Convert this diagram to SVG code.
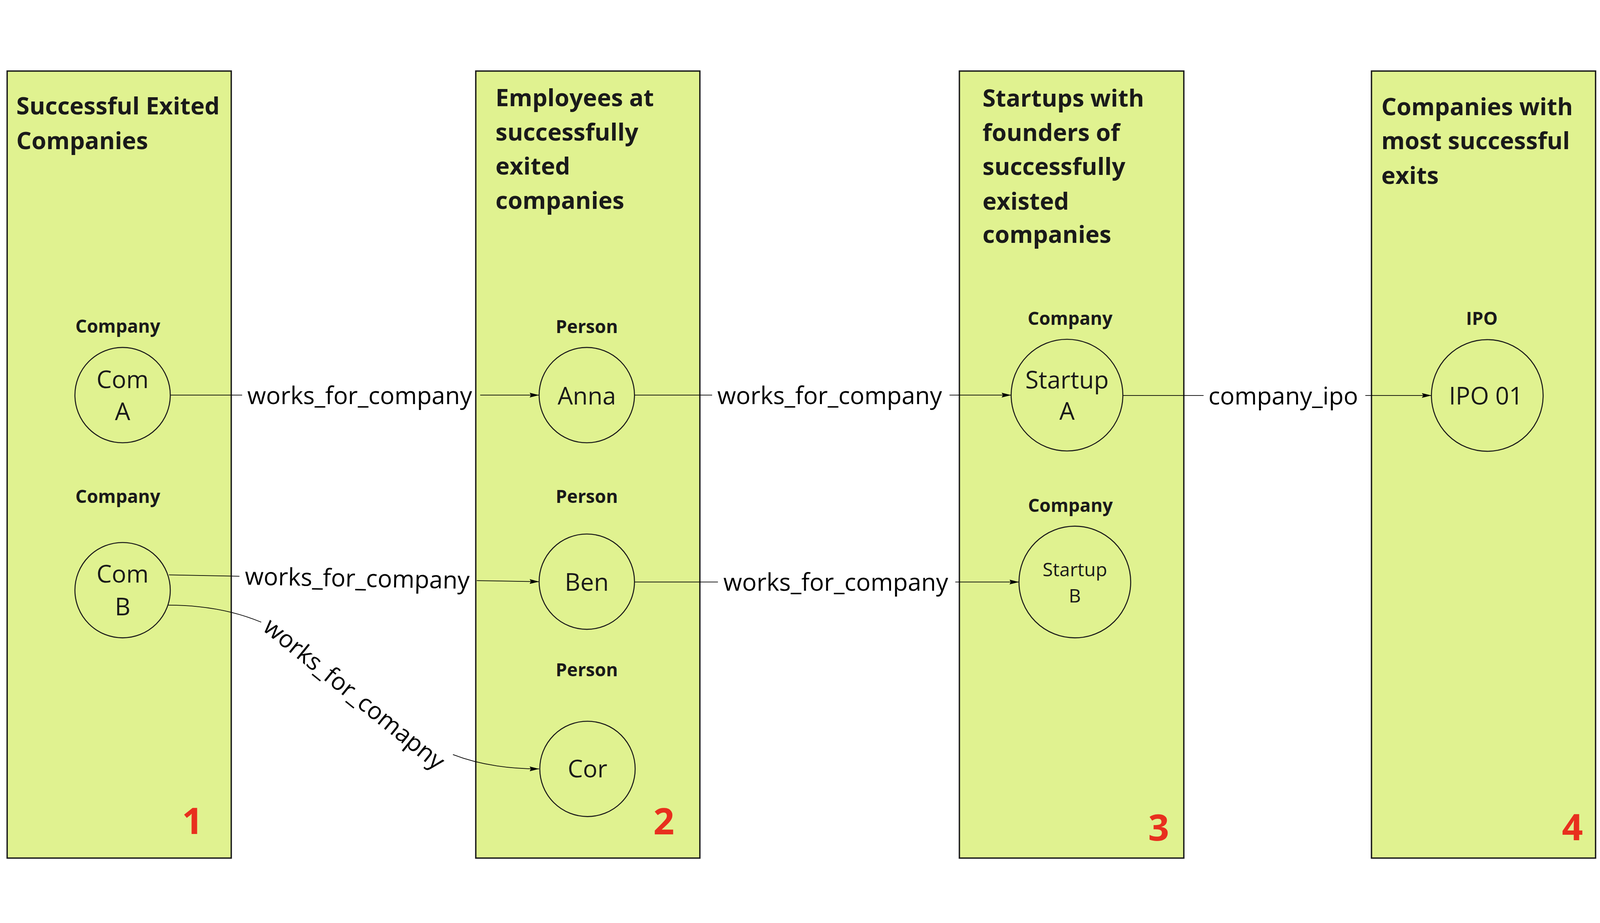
<svg xmlns="http://www.w3.org/2000/svg" width="4698" height="2364" viewBox="0 0 4698 2364" style="width:100vw;height:100vh">
<defs>
<style>
.panel{fill:#e0f290;stroke:#1a1a1a;stroke-width:4}
.node{fill:#e0f290;stroke:#1a1a1a;stroke-width:3}
.title{font-family:"Open Sans","Noto Sans",sans-serif;font-weight:bold;font-size:70px;fill:#1a1a1a}
.type{font-family:"Open Sans","Noto Sans",sans-serif;font-weight:bold;font-size:53px;fill:#1a1a1a;text-anchor:middle}
.ntext{font-family:"Open Sans","Noto Sans",sans-serif;font-size:71px;fill:#1a1a1a;text-anchor:middle}
.ntext-s{font-family:"Open Sans","Noto Sans",sans-serif;font-size:55px;fill:#1a1a1a;text-anchor:middle}
.num{font-family:"Open Sans","Noto Sans",sans-serif;font-weight:bold;font-size:108px;fill:#e8301e;text-anchor:end}
.edge{fill:none;stroke:#000;stroke-width:2}
.elabel{font-family:"Open Sans","Noto Sans",sans-serif;font-size:71px;fill:#000;text-anchor:middle}
</style>
<marker id="arrow" markerUnits="userSpaceOnUse" markerWidth="28" markerHeight="14" refX="28" refY="7" orient="auto">
<path d="M0,0 L28,7 L0,14 L4,7 z" fill="#000"/>
</marker>
</defs>
<rect width="4698" height="2364" fill="#fff"/>

<g id="panel1">
<rect class="panel" x="21" y="35" width="658" height="2312"/>
<text class="title" x="48" y="162">Successful Exited</text>
<text class="title" x="48" y="264">Companies</text>
<text class="num" x="596" y="2276">1</text>
</g>
<g id="panel2">
<rect class="panel" x="1397" y="35" width="658" height="2312"/>
<text class="title" x="1455" y="138">Employees at</text>
<text class="title" x="1455" y="239">successfully</text>
<text class="title" x="1455" y="339">exited</text>
<text class="title" x="1455" y="440">companies</text>
<text class="num" x="1980" y="2277">2</text>
</g>
<g id="panel3">
<rect class="panel" x="2817" y="35" width="659" height="2312"/>
<text class="title" x="2885" y="139">Startups with</text>
<text class="title" x="2885" y="240">founders of</text>
<text class="title" x="2885" y="340">successfully</text>
<text class="title" x="2885" y="442">existed</text>
<text class="title" x="2885" y="540">companies</text>
<text class="num" x="3433" y="2296">3</text>
</g>
<g id="panel4">
<rect class="panel" x="4027" y="35" width="658" height="2312"/>
<text class="title" x="4056" y="165">Companies with</text>
<text class="title" x="4056" y="265">most successful</text>
<text class="title" x="4056" y="366">exits</text>
<text class="num" x="4648" y="2295">4</text>
</g>

<g id="connectors">
<line class="edge" x1="500" y1="987" x2="711" y2="987"/>
<line class="edge" x1="1410" y1="987" x2="1583" y2="987" marker-end="url(#arrow)"/>
<text class="elabel" x="1056" y="1013">works_for_company</text>

<line class="edge" x1="496" y1="1515" x2="703" y2="1519"/>
<line class="edge" x1="1400" y1="1532" x2="1583" y2="1535" marker-end="url(#arrow)"/>
<text class="elabel" transform="translate(1049,1525) rotate(1.06)" x="0" y="25">works_for_company</text>

<path class="edge" d="M494,1604 C606,1604 693,1623 767,1654"/>
<path class="edge" d="M1330,2043 C1400,2070 1480,2085 1583,2085" marker-end="url(#arrow)"/>
<text class="elabel" transform="translate(1042,1846) rotate(39)" x="10" y="40">works_for_comapny</text>

<line class="edge" x1="1863" y1="987" x2="2091" y2="987"/>
<line class="edge" x1="2788" y1="987" x2="2969" y2="987" marker-end="url(#arrow)"/>
<text class="elabel" x="2436" y="1013">works_for_company</text>

<line class="edge" x1="1863" y1="1536" x2="2108" y2="1536"/>
<line class="edge" x1="2805" y1="1536" x2="2992" y2="1536" marker-end="url(#arrow)"/>
<text class="elabel" x="2454" y="1562">works_for_company</text>

<line class="edge" x1="3297" y1="988" x2="3534" y2="988"/>
<line class="edge" x1="4009" y1="988" x2="4203" y2="988" marker-end="url(#arrow)"/>
<text class="elabel" x="3768" y="1014">company_ipo</text>
</g>

<g id="node-com-a">
<text class="type" x="346" y="803">Company</text>
<circle class="node" cx="360" cy="987" r="140"/>
<text class="ntext" x="360" y="966">Com</text>
<text class="ntext" x="360" y="1061">A</text>
</g>
<g id="node-com-b">
<text class="type" x="346" y="1304">Company</text>
<circle class="node" cx="360" cy="1560" r="140"/>
<text class="ntext" x="360" y="1538">Com</text>
<text class="ntext" x="360" y="1634">B</text>
</g>
<g id="node-anna">
<text class="type" x="1723" y="805">Person</text>
<circle class="node" cx="1723" cy="987" r="140"/>
<text class="ntext" x="1723" y="1014">Anna</text>
</g>
<g id="node-ben">
<text class="type" x="1723" y="1304">Person</text>
<circle class="node" cx="1723" cy="1535" r="140"/>
<text class="ntext" x="1723" y="1562">Ben</text>
</g>
<g id="node-cor">
<text class="type" x="1723" y="1813">Person</text>
<circle class="node" cx="1725" cy="2085" r="140"/>
<text class="ntext" x="1725" y="2110">Cor</text>
</g>
<g id="node-startup-a">
<text class="type" x="3142" y="780">Company</text>
<circle class="node" cx="3133" cy="987" r="164"/>
<text class="ntext" x="3133" y="968">Startup</text>
<text class="ntext" x="3133" y="1059">A</text>
</g>
<g id="node-startup-b">
<text class="type" x="3143" y="1330">Company</text>
<circle class="node" cx="3156" cy="1536" r="164"/>
<text class="ntext-s" x="3156" y="1519">Startup</text>
<text class="ntext-s" x="3156" y="1596">B</text>
</g>
<g id="node-ipo">
<text class="type" x="4351" y="781">IPO</text>
<circle class="node" cx="4367" cy="988" r="164"/>
<text class="ntext" x="4363" y="1015">IPO 01</text>
</g>
</svg>
